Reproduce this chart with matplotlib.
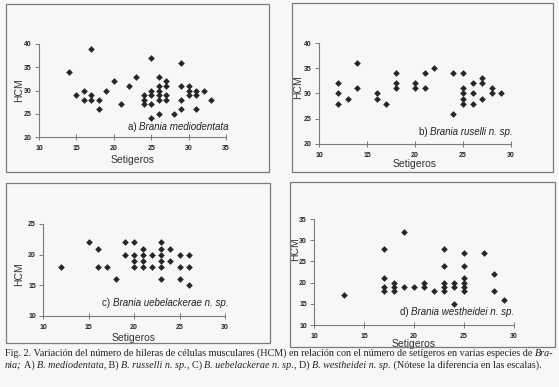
"""Scatter panels: HCM vs setigeros in four Brania species."""

import matplotlib.pyplot as plt
from matplotlib.patches import Rectangle

# a) Brania mediodentata
a_x = [14, 15, 16, 16, 17, 17, 17, 18, 18, 19, 20, 21, 22, 23, 24, 24, 24,
       25, 25, 25, 25, 25, 26, 26, 26, 26, 26, 26, 27, 27, 27, 27, 28,
       29, 29, 29, 29, 30, 30, 30, 31, 31, 31, 32, 33]
a_y = [34, 29, 30, 28, 39, 29, 28, 28, 26, 30, 32, 27, 31, 33, 29, 28, 27,
       37, 30, 29, 27, 24, 33, 31, 30, 29, 28, 25, 32, 31, 29, 28, 25,
       36, 31, 28, 26, 31, 30, 29, 30, 29, 26, 30, 28]

# b) Brania ruselli
b_x = [12, 12, 12, 13, 14, 14, 16, 16, 17, 18, 18, 18, 20, 20, 21, 21, 22,
       24, 24, 25, 25, 25, 25, 25, 26, 26, 26, 27, 27, 27, 28, 28, 29]
b_y = [32, 30, 28, 29, 36, 31, 30, 29, 28, 34, 32, 31, 32, 31, 34, 31, 35,
       34, 26, 34, 31, 30, 29, 28, 32, 30, 28, 33, 32, 29, 31, 30, 30]

# c) Brania uebelackerae
c_x = [12, 15, 16, 16, 17, 18, 19, 19, 20, 20, 20, 20, 21, 21, 21, 21, 22, 22,
       23, 23, 23, 23, 23, 23, 24, 24, 25, 25, 25, 26, 26, 26]
c_y = [18, 22, 21, 18, 18, 16, 22, 20, 22, 20, 19, 18, 21, 20, 19, 18, 20, 18,
       22, 21, 20, 19, 18, 16, 21, 19, 20, 18, 16, 20, 18, 15]

# d) Brania westheidei
d_x = [13, 17, 17, 17, 17, 18, 18, 18, 19, 19, 20, 21, 21, 22,
       23, 23, 23, 23, 23, 24, 24, 24, 25, 25, 25, 25, 25, 25, 27, 28, 28, 29]
d_y = [17, 28, 21, 19, 18, 20, 19, 18, 32, 19, 19, 20, 19, 18,
       28, 24, 20, 19, 18, 20, 19, 15, 27, 24, 21, 20, 19, 18, 27, 22, 18, 16]

W, H = 559, 387
INK = "#262626"
GRID = "#7a7a7a"

plt.rcParams["font.family"] = ["Liberation Sans", "DejaVu Sans"]

fig = plt.figure(figsize=(W / 100, H / 100), dpi=100)
fig.patch.set_facecolor("#f7f7f5")


def rect(l, t, r, b):
    return [l / W, 1 - b / H, (r - l) / W, (b - t) / H]


def panel(box, ax_px, xs, ys, xlim, ylim, xt, yt, xlab_pos, ylab_pos):
    l, t, r, b = box
    fig.patches.append(Rectangle((l / W, 1 - b / H), (r - l) / W, (b - t) / H,
                                 transform=fig.transFigure, fill=False,
                                 edgecolor=GRID, linewidth=0.9))
    ax = fig.add_axes(rect(*ax_px))
    ax.set_facecolor("none")
    ax.plot(xs, ys, "D", color=INK, markersize=3.4, markeredgewidth=0,
            clip_on=False)
    ax.set_xlim(*xlim)
    ax.set_ylim(*ylim)
    ax.set_xticks(xt)
    ax.set_yticks(yt)
    for s in ["top", "right"]:
        ax.spines[s].set_visible(False)
    for s in ["left", "bottom"]:
        ax.spines[s].set_color(GRID)
        ax.spines[s].set_linewidth(0.8)
    ax.tick_params(axis="x", direction="inout", length=4, width=0.7,
                   color=GRID, labelsize=5, pad=4, labelcolor=INK)
    ax.tick_params(axis="y", direction="out", length=3, width=0.7,
                   color=GRID, labelsize=5, pad=2, labelcolor=INK)
    for lab in ax.get_xticklabels() + ax.get_yticklabels():
        lab.set_fontweight("bold")
    ax.set_xlabel("Setigeros", fontsize=7.5, color="#333333")
    ax.set_ylabel("HCM", fontsize=7.5, color="#333333")
    ax.xaxis.set_label_coords(0.5, xlab_pos)
    ax.yaxis.set_label_coords(*ylab_pos)
    return ax


ax_a = panel((6, 4, 269, 172), (39, 44, 226, 137), a_x, a_y, (10, 35), (20, 40),
             range(10, 36, 5), range(20, 41, 5), -0.19, (-0.08, 0.5))
ax_b = panel((292, 3, 553, 172), (319, 43, 511, 144), b_x, b_y, (10, 30), (20, 40),
             range(10, 31, 5), range(20, 41, 5), -0.15, (-0.085, 0.56))
ax_c = panel((6, 183, 270, 343), (43, 224, 225, 316), c_x, c_y, (10, 30), (10, 25),
             range(10, 31, 5), range(10, 26, 5), -0.185, (-0.104, 0.45))
ax_d = panel((290, 182, 555, 347), (314, 219, 514, 325), d_x, d_y, (10, 30), (10, 35),
             range(10, 31, 5), range(10, 36, 5), -0.13, (-0.068, 0.72))

fig.canvas.draw()
renderer = fig.canvas.get_renderer()


def runs(x, y, pieces, size, family):
    """Write text pieces one after another, some in italic."""
    cur = x
    for txt, style in pieces:
        t = fig.text(cur / W, 1 - y / H, txt, fontsize=size, family=family,
                     style=style, color="#222222", va="center", ha="left")
        bb = t.get_window_extent(renderer)
        cur += bb.width


sans = ["Liberation Sans", "DejaVu Sans"]
runs(128, 127, [("a) ", "normal"), ("Brania mediodentata", "italic")], 7, sans)
runs(419, 132, [("b) ", "normal"), ("Brania ruselli n. sp.", "italic")], 7, sans)
runs(102, 303, [("c) ", "normal"), ("Brania uebelackerae n. sp.", "italic")], 7, sans)
runs(400, 312, [("d) ", "normal"), ("Brania westheidei n. sp.", "italic")], 7, sans)

serif = ["Liberation Serif", "DejaVu Serif"]
runs(5, 353, [
    ("Fig. 2. Variación del número de hileras de células musculares (HCM) en relación "
     "con el número de setígeros en varias especies de ", "normal"),
    ("Bra-", "italic")], 7.25, serif)
runs(5, 365, [
    ("nia;", "italic"), (" A) ", "normal"), ("B. mediodentata,", "italic"),
    (" B) ", "normal"), ("B. russelli n. sp.", "italic"), (", C) ", "normal"),
    ("B. uebelackerae n. sp.", "italic"), (", D) ", "normal"),
    ("B. westheidei n. sp.", "italic"),
    (" (Nótese la diferencia en las escalas).", "normal")], 7.25, serif)

fig.savefig("out.png", dpi=100, facecolor=fig.get_facecolor())
